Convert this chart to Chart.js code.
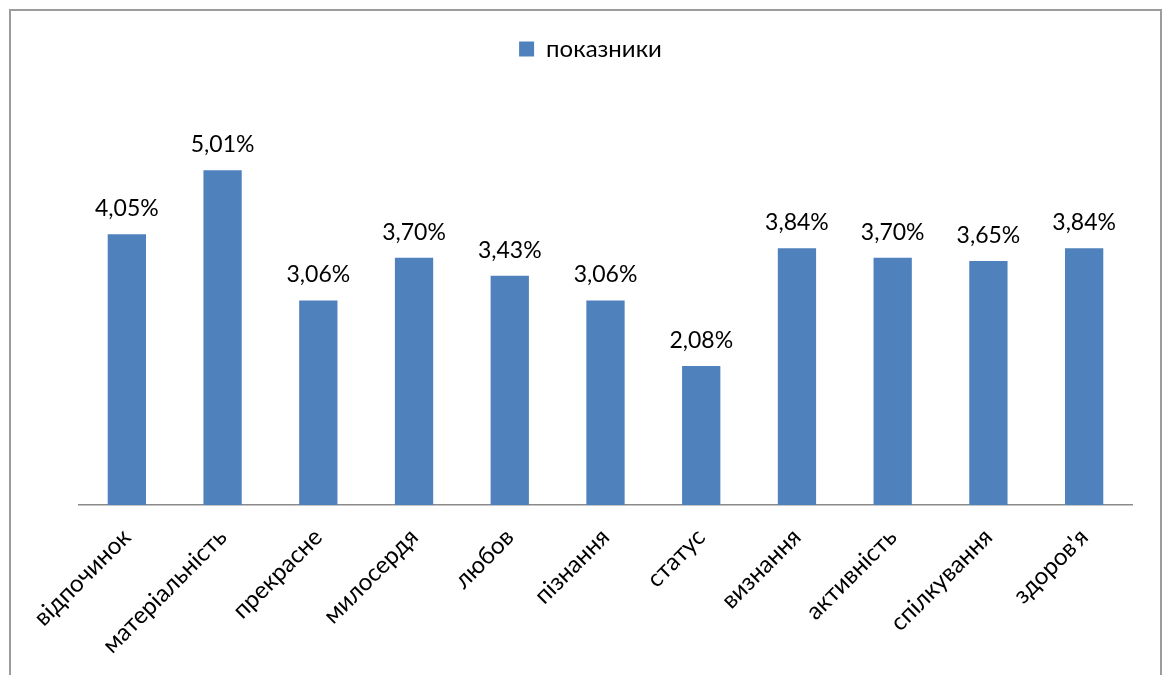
<!DOCTYPE html>
<html>
<head>
<meta charset="utf-8">
<script src="https://cdn.jsdelivr.net/npm/chart.js@4"></script>
<style>
  html, body { margin: 0; padding: 0; background: #fff; }
  #wrap { position: relative; width: 1166px; height: 675px; overflow: hidden; }
  #frame {
    position: absolute; left: 9px; top: 9px; width: 1149px; height: 700px;
    border: 2px solid #9c9c9c; border-bottom: none; pointer-events: none;
  }
</style>
</head>
<body>
<div id="wrap">
  <canvas id="bar-chart"></canvas>
  <div id="frame"></div>
</div>
<script>
const categories = [
  "відпочинок", "матеріальність", "прекрасне", "милосердя", "любов",
  "пізнання", "статус", "визнання", "активність", "спілкування", "здоров'я"
];
const values = [4.05, 5.01, 3.06, 3.70, 3.43, 3.06, 2.08, 3.84, 3.70, 3.65, 3.84];
const seriesName = "показники";

const FONT = "Lato, 'Open Sans', sans-serif";

// value labels above each bar
const valueLabels = {
  id: "valueLabels",
  afterDatasetsDraw(chart) {
    const ctx = chart.ctx;
    const meta = chart.getDatasetMeta(0);
    ctx.save();
    ctx.font = "23px " + FONT;
    ctx.fillStyle = "#000";
    ctx.textAlign = "center";
    ctx.textBaseline = "alphabetic";
    meta.data.forEach((bar, i) => {
      const txt = values[i].toFixed(2).replace(".", ",") + "%";
      ctx.fillText(txt, bar.x, bar.y - 18);
    });
    ctx.restore();
  }
};

// extra gap under the legend, legend nudged a bit left
const legendGap = {
  id: "legendGap",
  beforeUpdate(chart) {
    const lg = chart.legend;
    if (lg && !lg._gapPatched) {
      const fit = lg.fit;
      lg.fit = function () {
        fit.call(this);
        this.height += 33;
      };
      lg._gapPatched = true;
    }
  },
  afterLayout(chart) {
    const lg = chart.legend;
    if (lg) {
      lg.left -= 15;
      lg.right -= 15;
    }
  }
};

const config = {
  type: "bar",
  data: {
    labels: categories,
    datasets: [
      {
        label: seriesName,
        data: values,
        backgroundColor: "#4F81BD",
        borderWidth: 0,
        barPercentage: 0.4,
        categoryPercentage: 1,
      },
    ],
  },
  options: {
    responsive: true,
    maintainAspectRatio: false,
    animation: false,
    layout: {
      padding: { left: 79, right: 34, top: 31, bottom: 0 },
    },
    plugins: {
      legend: {
        display: true,
        position: "top",
        labels: {
          boxWidth: 15,
          boxHeight: 15,
          padding: 6,
          color: "#000",
          font: { family: FONT, size: 24 },
        },
      },
      tooltip: { enabled: false },
    },
    scales: {
      x: {
        grid: { display: false, drawTicks: false },
        border: { display: true, color: "#8a8a8a", width: 1.5 },
        ticks: {
          color: "#000",
          font: { family: FONT, size: 24 },
          minRotation: 45,
          maxRotation: 45,
          autoSkip: false,
          padding: 18,
        },
        afterFit(scale) {
          scale.height = 170;
        },
      },
      y: {
        display: false,
        min: 0,
        max: 6,
      },
    },
  },
  plugins: [valueLabels, legendGap],
};

const myBarChart = new Chart(document.getElementById("bar-chart"), config);
</script>
</body>
</html>
